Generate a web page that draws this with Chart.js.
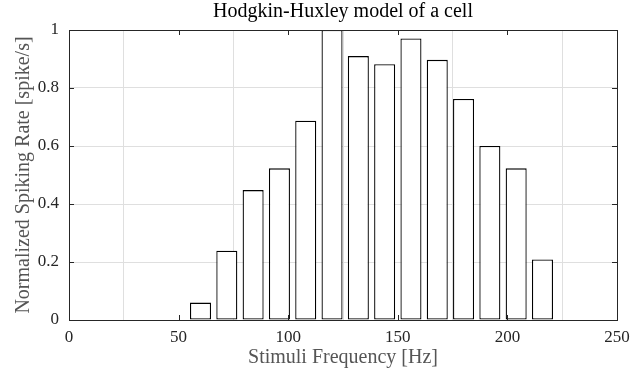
<!DOCTYPE html>
<html>
<head>
<meta charset="utf-8">
<script src="https://cdn.jsdelivr.net/npm/chart.js@4.4.1/dist/chart.umd.min.js"></script>
<style>
  html, body { margin: 0; padding: 0; background: #ffffff; }
  #wrap { width: 631px; height: 374px; }
</style>
</head>
<body>
<div id="wrap"><canvas id="hh-chart" width="631" height="374"></canvas></div>
<script>
(function() {
	'use strict';

	// Stimulus frequencies (Hz) and normalized spiking rate for each one.
	const freqs = [12, 24, 36, 48, 60, 72, 84, 96, 108, 120, 132, 144, 156, 168, 180, 192, 204, 216, 228, 240];
	const rates = [0, 0, 0, 0, 0.06, 0.239, 0.448, 0.523, 0.687, 1.0, 0.91, 0.882, 0.971, 0.897, 0.762, 0.6, 0.523, 0.209, 0, 0];

	const xTicks = [0, 50, 100, 150, 200, 250];
	const yTicks = [0, 0.2, 0.4, 0.6, 0.8, 1];

	const chartTitle = 'Hodgkin-Huxley model of a cell';

	const axisColor = '#262626';
	const labelColor = '#555555';
	const gridColor = '#dfdfdf';
	const serif = "'Liberation Serif', 'Times New Roman', serif";

	// Box around the axes with short inward tick marks on all four sides,
	// plus the title centred over the plot area.
	const axesBox = {
		id: 'axesBox',
		afterDraw: function(chart) {
			const ctx = chart.ctx;
			const area = chart.chartArea;
			const xs = chart.scales.x;
			const ys = chart.scales.y;
			const len = 5;
			ctx.save();
			ctx.strokeStyle = axisColor;
			ctx.lineWidth = 1;
			ctx.beginPath();
			xTicks.forEach(function(v) {
				const px = Math.round(xs.getPixelForValue(v)) + 0.5;
				ctx.moveTo(px, area.bottom);
				ctx.lineTo(px, area.bottom - len);
				ctx.moveTo(px, area.top);
				ctx.lineTo(px, area.top + len);
			});
			yTicks.forEach(function(v) {
				const py = Math.round(ys.getPixelForValue(v)) + 0.5;
				ctx.moveTo(area.left, py);
				ctx.lineTo(area.left + len, py);
				ctx.moveTo(area.right, py);
				ctx.lineTo(area.right - len, py);
			});
			ctx.stroke();
			ctx.strokeRect(Math.round(area.left) + 0.5, Math.round(area.top) + 0.5,
				Math.round(area.right - area.left), Math.round(area.bottom - area.top));

			ctx.fillStyle = '#000000';
			ctx.font = '20px ' + serif;
			ctx.textAlign = 'center';
			ctx.textBaseline = 'middle';
			ctx.fillText(chartTitle, (area.left + area.right) / 2, 12);
			ctx.restore();
		}
	};

	const ctx = document.getElementById('hh-chart').getContext('2d');

	new Chart(ctx, {
		type: 'bar',
		data: {
			datasets: [{
				data: freqs.map(function(f, i) { return { x: f, y: rates[i] }; }),
				backgroundColor: '#ffffff',
				borderColor: '#000000',
				borderWidth: 1.3,
				borderSkipped: false,
				barPercentage: 0.8,
				categoryPercentage: 1.0
			}]
		},
		options: {
			responsive: false,
			animation: false,
			events: [],
			layout: {
				padding: { left: 0, right: 14, top: 30, bottom: 0 }
			},
			plugins: {
				legend: { display: false },
				tooltip: { enabled: false },
				title: { display: false }
			},
			scales: {
				x: {
					type: 'linear',
					min: 0,
					max: 250,
					offset: false,
					afterBuildTicks: function(scale) {
						scale.ticks = xTicks.map(function(v) { return { value: v }; });
					},
					afterFit: function(scale) {
						scale.height = 54;
						scale.paddingLeft = 0;
						scale.paddingRight = 0;
					},
					grid: { color: gridColor, drawTicks: false },
					border: { display: false },
					ticks: {
						color: axisColor,
						padding: 7,
						maxRotation: 0,
						font: { family: serif, size: 17 }
					},
					title: {
						display: true,
						text: 'Stimuli Frequency [Hz]',
						color: labelColor,
						padding: { top: 0, bottom: 4 },
						font: { family: serif, size: 20 }
					}
				},
				y: {
					min: 0,
					max: 1,
					afterBuildTicks: function(scale) {
						scale.ticks = yTicks.map(function(v) { return { value: v }; });
					},
					afterFit: function(scale) {
						scale.width = 69;
						scale.paddingTop = 0;
						scale.paddingBottom = 0;
					},
					grid: { color: gridColor, drawTicks: false },
					border: { display: false },
					ticks: {
						color: axisColor,
						padding: 10,
						font: { family: serif, size: 17 },
						callback: function(value) { return String(value); }
					},
					title: {
						display: true,
						text: 'Normalized Spiking Rate [spike/s]',
						color: labelColor,
						padding: { top: 12, bottom: 0 },
						font: { family: serif, size: 20 }
					}
				}
			}
		},
		plugins: [axesBox]
	});
})();
</script>
</body>
</html>
